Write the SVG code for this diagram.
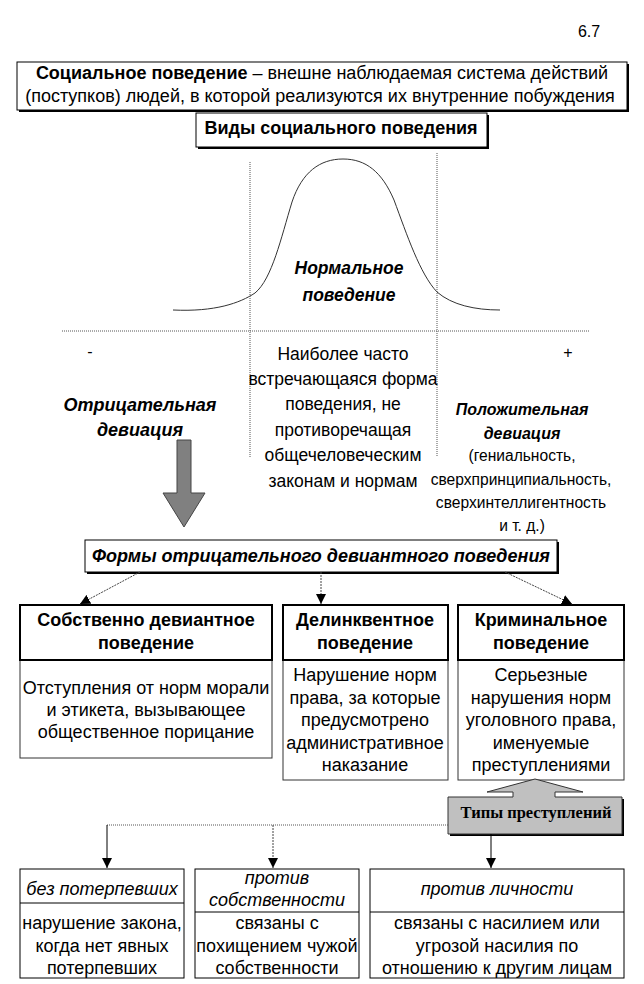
<svg xmlns="http://www.w3.org/2000/svg" width="644" height="984" viewBox="0 0 644 984">
<style>
.t{font-family:"Liberation Sans",Arial,sans-serif;fill:#000;text-anchor:middle}
.b{font-weight:bold}
.i{font-style:italic}
.s18{font-size:18px}
.s17{font-size:17.5px}
.s16{font-size:16px}
.s15{font-size:15.6px}
.box{fill:#fff;stroke:#000;stroke-width:1}
.shadow{fill:#000}
.hdr{fill:#fff;stroke:#000;stroke-width:2}
.body{fill:#fff;stroke:#333;stroke-width:1}
.dot{fill:none;stroke:#555;stroke-width:1;stroke-dasharray:1,1}
.con{fill:none;stroke:#444;stroke-width:1;stroke-dasharray:2,1}
.sol{fill:none;stroke:#000;stroke-width:1}
</style>
<defs>
<marker id="ah" markerWidth="10" markerHeight="10" refX="10" refY="5" orient="auto" markerUnits="userSpaceOnUse" viewBox="0 0 10 10">
<path d="M0,0 L10,5 L0,10 Z" fill="#000"/>
</marker>
</defs>

<text class="t s16" x="589" y="37">6.7</text>

<g id="definition">
<rect class="shadow" x="19" y="64" width="610" height="48"/>
<rect class="box" x="17" y="62" width="610" height="48"/>
<text class="t s18" x="322" y="79"><tspan class="b">Социальное поведение</tspan> – внешне наблюдаемая система действий</text>
<text class="t s18" x="320" y="102">(поступков) людей, в которой реализуются их внутренние побуждения</text>
</g>

<g id="types-title">
<rect class="shadow" x="198" y="115" width="291" height="34"/>
<rect class="box" x="196" y="113" width="291" height="34"/>
<text class="t s18 b" x="341" y="134">Виды социального поведения</text>
</g>

<g id="chart">
<path d="M173,310 C215,312 240,303 255,293 C272,279 281,238 292,202 C302,172 320,159 343,159 C366,159 382,172 394,200 C407,235 420,274 437,292 C452,305 475,310 500,310" fill="none" stroke="#333" stroke-width="1"/>
<line class="dot" x1="250" y1="162" x2="250" y2="458"/>
<line class="dot" x1="437" y1="153" x2="437" y2="456"/>
<line class="dot" x1="62" y1="331" x2="590" y2="331"/>
<text class="t s16" x="90" y="357">-</text>
<text class="t s16" x="568" y="358">+</text>
</g>

<g id="normal">
<text class="t s17 b i" x="349" y="274">Нормальное</text>
<text class="t s17 b i" x="349" y="301">поведение</text>
<text class="t s17" x="343" y="360">Наиболее часто</text>
<text class="t s17" x="343" y="385">встречающаяся форма</text>
<text class="t s17" x="343" y="410">поведения, не</text>
<text class="t s17" x="343" y="436">противоречащая</text>
<text class="t s17" x="343" y="461">общечеловеческим</text>
<text class="t s17" x="343" y="487">законам и нормам</text>
</g>

<g id="negative">
<text class="t s18 b i" x="140" y="411">Отрицательная</text>
<text class="t s18 b i" x="140" y="436">девиация</text>
</g>

<g id="positive">
<text class="t s16 b i" x="522" y="415">Положительная</text>
<text class="t s16 b i" x="522" y="439">девиация</text>
<text class="t s15" x="522" y="461">(гениальность,</text>
<text class="t s15" x="521" y="485">сверхпринципиальность,</text>
<text class="t s15" x="521" y="508">сверхинтеллигентность</text>
<text class="t s15" x="522" y="531">и т. д.)</text>
</g>

<g id="forms">
<rect class="shadow" x="87" y="542" width="472" height="32"/>
<rect class="box" x="85" y="540" width="472" height="32"/>
<text class="t s18 b i" x="321" y="562">Формы отрицательного девиантного поведения</text>
</g>

<g id="deviant">
<rect class="body" x="20" y="660" width="252" height="98"/>
<rect class="hdr" x="20" y="605" width="252" height="55"/>
<text class="t s18 b" x="146" y="626">Собственно девиантное</text>
<text class="t s18 b" x="146" y="649">поведение</text>
<text class="t s18" x="146" y="694">Отступления от норм морали</text>
<text class="t s18" x="146" y="716">и этикета, вызывающее</text>
<text class="t s18" x="146" y="738">общественное порицание</text>
</g>

<g id="delinquent">
<rect class="body" x="283" y="660" width="165" height="120"/>
<rect class="hdr" x="283" y="605" width="165" height="55"/>
<text class="t s18 b" x="365" y="626">Делинквентное</text>
<text class="t s18 b" x="365" y="649">поведение</text>
<text class="t s18" x="365" y="681">Нарушение норм</text>
<text class="t s18" x="365" y="704">права, за которые</text>
<text class="t s18" x="365" y="726">предусмотрено</text>
<text class="t s18" x="365" y="749">административное</text>
<text class="t s18" x="365" y="771">наказание</text>
</g>

<g id="criminal">
<rect class="body" x="458" y="660" width="166" height="120"/>
<rect class="hdr" x="458" y="605" width="166" height="55"/>
<text class="t s18 b" x="541" y="626">Криминальное</text>
<text class="t s18 b" x="541" y="649">поведение</text>
<text class="t s18" x="541" y="681">Серьезные</text>
<text class="t s18" x="541" y="704">нарушения норм</text>
<text class="t s18" x="541" y="726">уголовного права,</text>
<text class="t s18" x="541" y="749">именуемые</text>
<text class="t s18" x="541" y="771">преступлениями</text>
</g>

<g id="crime-types">
<rect class="shadow" x="450" y="799" width="174" height="37"/>
<path d="M535,779 L583,792 L555,792 L555,797 L622,797 L622,834 L448,834 L448,797 L513,797 L513,792 L487,792 Z" fill="#c0c0c0" stroke="#333" stroke-width="1"/>
<text x="536" y="818" style="font-family:'Liberation Serif','Times New Roman',serif;font-weight:bold;font-size:16.5px;text-anchor:middle">Типы преступлений</text>
</g>

<g id="victimless">
<rect class="box" x="20" y="869" width="164" height="109"/>
<line class="sol" x1="20" y1="903" x2="184" y2="903"/>
<text class="t s18 i" x="102" y="895">без потерпевших</text>
<text class="t s18" x="102" y="929">нарушение закона,</text>
<text class="t s18" x="102" y="952">когда нет явных</text>
<text class="t s18" x="102" y="974">потерпевших</text>
</g>

<g id="property">
<rect class="box" x="195" y="869" width="164" height="109"/>
<line class="sol" x1="195" y1="912" x2="359" y2="912"/>
<text class="t s18 i" x="277" y="884">против</text>
<text class="t s18 i" x="277" y="906">собственности</text>
<text class="t s18" x="277" y="929">связаны с</text>
<text class="t s18" x="277" y="952">похищением чужой</text>
<text class="t s18" x="277" y="974">собственности</text>
</g>

<g id="person">
<rect class="box" x="370" y="869" width="254" height="109"/>
<line class="sol" x1="370" y1="912" x2="624" y2="912"/>
<text class="t s18 i" x="497" y="895">против личности</text>
<text class="t s18" x="497" y="929">связаны с насилием или</text>
<text class="t s18" x="497" y="952">угрозой насилия по</text>
<text class="t s18" x="497" y="974">отношению к другим лицам</text>
</g>

<g id="connectors">
<path d="M177,440 H191 V493 H205 L184,527 L163,493 H177 Z" fill="#808080" stroke="#444" stroke-width="1"/>
<line class="con" x1="140" y1="572" x2="80" y2="604" marker-end="url(#ah)"/>
<line class="con" x1="321" y1="572" x2="321" y2="604" marker-end="url(#ah)"/>
<line class="con" x1="505" y1="572" x2="572" y2="604" marker-end="url(#ah)"/>
<line class="dot" x1="448" y1="825" x2="107" y2="825"/>
<line class="sol" x1="107" y1="825" x2="107" y2="868" marker-end="url(#ah)"/>
<line class="con" x1="273" y1="825" x2="273" y2="868" marker-end="url(#ah)"/>
<line class="sol" x1="491" y1="834" x2="491" y2="868" marker-end="url(#ah)"/>
</g>
</svg>
